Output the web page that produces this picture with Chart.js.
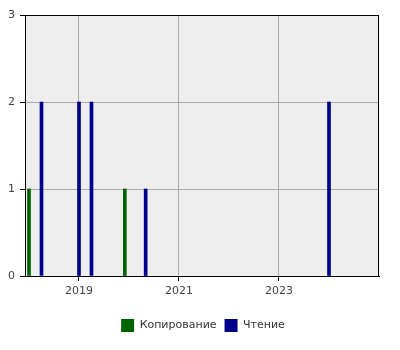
<!DOCTYPE html>
<html>
<head>
<meta charset="utf-8">
<script src="https://cdn.jsdelivr.net/npm/chart.js@4"></script>
<style>
  html, body { margin: 0; padding: 0; background: #fff; }
  #wrap { width: 400px; height: 350px; }
</style>
</head>
<body>
<div id="wrap"><canvas id="chart" width="400" height="350"></canvas></div>
<script>
// data (month of each event, count)
const copyDates = ["2018-01", "2019-12"];
const copyCounts = [1, 1];
const readDates = ["2018-04", "2019-01", "2019-04", "2020-05", "2024-01"];
const readCounts = [2, 2, 2, 1, 2];
const xTicks = [2019, 2021, 2023];
const seriesNames = ["Копирование", "Чтение"];

// "YYYY-MM" -> fractional year
function toYear(s) {
  const [y, m] = s.split("-").map(Number);
  return y + (m - 1) / 12;
}
function points(dates, counts) {
  return dates.map((d, i) => ({ x: toYear(d), y: counts[i] }));
}

const plotBox = {
  id: "plotBox",
  beforeDraw(chart) {
    const { ctx, chartArea: a } = chart;
    ctx.save();
    ctx.fillStyle = "#eeeeee";
    ctx.fillRect(a.left, a.top, a.right - a.left, a.bottom - a.top);
    ctx.restore();
  },
  afterDatasetsDraw(chart) {
    const { ctx, chartArea: a } = chart;
    ctx.save();
    ctx.strokeStyle = "#000";
    ctx.lineWidth = 1;
    ctx.strokeRect(a.left + 0.5, a.top + 0.5, a.right - a.left - 1, a.bottom - a.top);
    ctx.restore();
  },
};

Chart.defaults.font.family = "'DejaVu Sans', sans-serif";
Chart.defaults.font.size = 11;
Chart.defaults.color = "#444";

new Chart(document.getElementById("chart"), {
  type: "bar",
  data: {
    datasets: [
      {
        label: seriesNames[0],
        data: points(copyDates, copyCounts),
        backgroundColor: "#006400",
        borderWidth: 0,
      },
      {
        label: seriesNames[1],
        data: points(readDates, readCounts),
        backgroundColor: "#00008b",
        borderWidth: 0,
      },
    ],
  },
  options: {
    responsive: false,
    animation: false,
    grouped: false,
    barThickness: 3,
    layout: { padding: { left: 6, right: 0, top: 15, bottom: 8 } },
    plugins: {
      tooltip: { enabled: false },
      legend: {
        position: "bottom",
        labels: { boxWidth: 13, boxHeight: 13, padding: 8, color: "#333" },
      },
    },
    scales: {
      x: {
        type: "linear",
        offset: false,
        min: 2017.92,
        max: 2025,
        afterBuildTicks(scale) {
          scale.ticks = xTicks.map((v) => ({ value: v }));
        },
        ticks: { callback: (v) => String(v), padding: 4, maxRotation: 0 },
        grid: { offset: false, color: "#aaaaaa", tickColor: "#000", tickLength: 5 },
        border: { color: "#000" },
        afterFit(scale) { scale.height = 35; },
      },
      y: {
        min: 0,
        max: 3,
        ticks: { stepSize: 1, padding: 5 },
        grid: { color: "#aaaaaa", tickColor: "#000", tickLength: 5 },
        border: { color: "#000" },
        afterFit(scale) { scale.width = 19; },
      },
      // empty right axis, only to keep the right margin
      yRight: {
        position: "right",
        min: 0,
        max: 3,
        ticks: { display: false },
        grid: { display: false, drawTicks: false },
        border: { display: false },
        afterFit(scale) { scale.width = 21; },
      },
    },
  },
  plugins: [plotBox],
});
</script>
</body>
</html>
